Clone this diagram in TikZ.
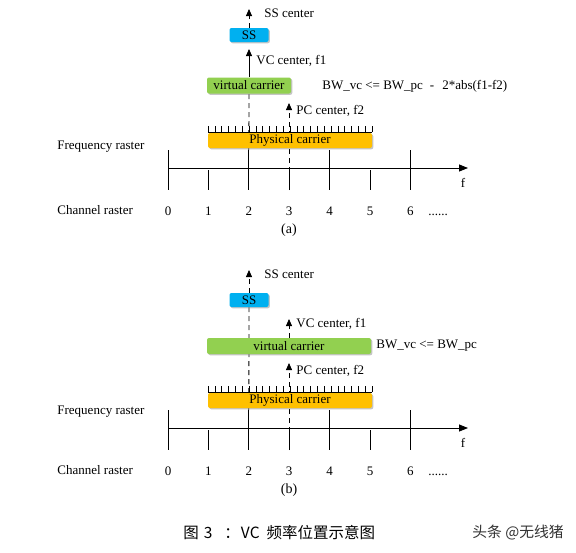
\documentclass[tikz,border=0pt]{standalone}
\usepackage{fontspec}
\setmainfont{Liberation Serif}
\newfontfamily\cjk{Noto Sans CJK SC}
\usetikzlibrary{arrows.meta,shadows}
\definecolor{ssblue}{HTML}{00B0F0}
\definecolor{vcgreen}{HTML}{92D050}
\definecolor{pcorange}{HTML}{FFC000}
\tikzset{
	carrier/.style={rounded corners=2pt, inner sep=0pt, minimum height=15pt, font=\fontsize{13}{15}\selectfont,
		drop shadow={shadow xshift=1.3pt, shadow yshift=-1.3pt, fill=black!45, opacity=.5}},
	txt/.style={inner sep=0pt, font=\fontsize{13}{15}\selectfont},
	dsh/.style={dash pattern=on 5pt off 4pt},
	tip/.style={-{Triangle[length=7pt,width=6pt]}},
}
\begin{document}
\begin{tikzpicture}[x=1pt,y=-1pt,line width=0.8pt]
	\useasboundingbox[fill=white] (0,0) rectangle (576,552) ;
	\foreach \p/\dy/\fy in {a/0/0,b/260/265} {
		\node[txt,anchor=base west] (fr\p) at (57,\fy+149) {Frequency raster} ;
		\node[txt,anchor=base west] (cr\p) at (57,\dy+214) {Channel raster} ;
		\coordinate (ax0\p) at (168,\dy+168) ;
		\coordinate (ax1\p) at (468,\dy+168) ;
		\draw[-{Triangle[length=9pt,width=7pt]}] (ax0\p) -- (ax1\p) ;
		\node[txt,anchor=base] (f\p) at (463,\dy+187) {f} ;
		\foreach \i in {0,...,6} {
			\pgfmathsetmacro\tx{168+40.4*\i}
			\pgfmathsetmacro\ty{isodd(\i) ? 170 : 150}
			\coordinate (t\i\p) at (\tx,\dy+\ty) ;
			\draw (t\i\p) -- (\tx,\dy+190) ;
			\node[txt,anchor=base] (n\i\p) at (\tx,\dy+215) {\i} ;
		}
		\node[txt,anchor=base west] (dots\p) at (428,\dy+215) {......} ;
		\node[txt,anchor=base,font=\fontsize{14}{16}\selectfont] (cap\p) at (289,\dy+233) {(\p)} ;
		\coordinate (pcbot\p) at (289,\dy+190) ;
		\coordinate (pctip\p) at (289,\dy+103) ;
		\draw[dsh,tip] (pcbot\p) -- (pctip\p) ;
		\node[txt,anchor=base west] (pcl\p) at (296,\dy+114) {PC center, f2} ;
	}
	\draw[dsh] (249,94) -- (t2a) ;
	\draw[dsh] (249,307) -- (t2b) ;
	\foreach \p/\dy in {a/0,b/260} {
		\node[carrier,fill=pcorange,minimum width=164pt] (pc\p) at (290,\dy+140.5) {Physical carrier} ;
		\draw[line width=0.6pt] (208,\dy+132) -- (372,\dy+132) ;
		\foreach \k in {0,...,24}
			\draw[line width=0.6pt] (208+\k*164/24,\dy+132) -- (208+\k*164/24,\dy+126) ;
	}
	\node[carrier,fill=ssblue,minimum width=39pt,minimum height=14pt] (ssa) at (249,35) {SS} ;
	\coordinate (sstipa) at (249,9) ;
	\draw[dsh,tip] (ssa.north) -- (sstipa) ;
	\node[txt,anchor=base west] (ssla) at (264,17) {SS center} ;
	\node[carrier,fill=vcgreen,minimum width=84pt,minimum height=16pt] (vca) at (249,85.5) {virtual carrier} ;
	\coordinate (vctipa) at (249,49) ;
	\draw[tip] (vca.north) -- (vctipa) ;
	\node[txt,anchor=base west] (vcla) at (256,64) {VC center, f1} ;
	\node[txt,anchor=base west] (bwa) at (322,89) {BW\_vc <= BW\_pc\hspace{7pt}-\hspace{8pt}2*abs(f1-f2)} ;
	\node[carrier,fill=ssblue,minimum width=39pt,minimum height=14pt] (ssb) at (249,300) {SS} ;
	\coordinate (sstipb) at (249,270) ;
	\draw[dsh,tip] (ssb.north) -- (sstipb) ;
	\node[txt,anchor=base west] (sslb) at (264,278) {SS center} ;
	\node[carrier,fill=vcgreen,minimum width=164pt,minimum height=16pt] (vcb) at (289,346) {virtual carrier} ;
	\coordinate (vctipb) at (289,319) ;
	\draw[dsh,tip] (vcb.north) -- (vctipb) ;
	\node[txt,anchor=base west] (vclb) at (296,327) {VC center, f1} ;
	\node[txt,anchor=base west] (bwb) at (376,348) {BW\_vc <= BW\_pc} ;
	\node[inner sep=0pt,anchor=west,font=\cjk\fontsize{15.5}{17}\selectfont] (title) at (183,533)
		{图\hspace{5pt}3\hspace{12pt}：\hspace{1pt}VC\hspace{7pt}频率位置示意图} ;
	\node[inner sep=0pt,text=black!80,font=\cjk\fontsize{14.8}{17}\selectfont,anchor=west] (mark) at (472,533) {头条 @无线猪} ;
\end{tikzpicture}
\end{document}
